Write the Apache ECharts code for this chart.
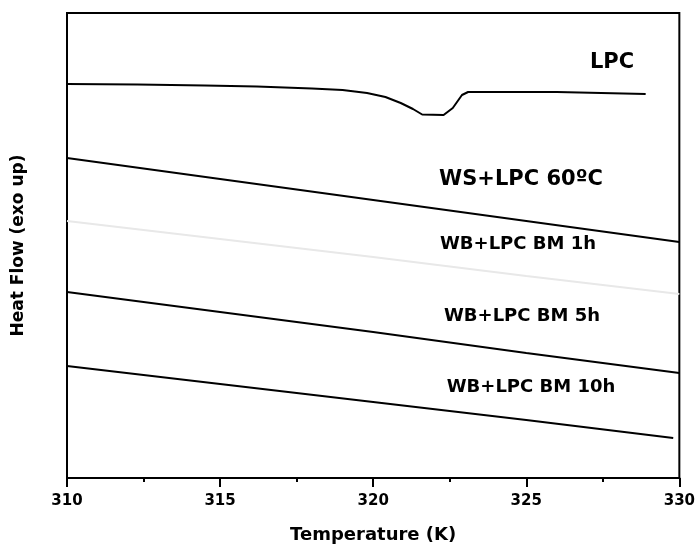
<!DOCTYPE html>
<html>
<head>
<meta charset="utf-8">
<script src="https://cdn.jsdelivr.net/npm/echarts@6/dist/echarts.min.js"></script>
<style>
  html, body { margin: 0; padding: 0; background: #fff; }
  #chart { width: 698px; height: 549px; }
</style>
</head>
<body>
<div id="chart"></div>
<script>
// temperatures (K) and heat flow (a.u.)
const lpcT = [310.0, 312.3, 314.5, 316.2, 318.0, 319.0, 319.8, 320.4, 320.9, 321.3, 321.6, 322.3, 322.6, 322.9, 323.1, 326.0, 328.9];
const lpcH = [394, 393.5, 392.5, 391.5, 389.5, 388, 385, 381, 375, 369, 363.5, 363, 370, 383, 386, 386, 384];

const ws60T = [310, 315, 320, 325, 330];
const ws60H = [320, 299, 278, 257, 236];

const bm1T = [310, 315, 320, 325, 330];
const bm1H = [257, 239, 221, 202, 184];

const bm5T = [310, 315, 320, 325, 330];
const bm5H = [186, 166, 146, 125, 105];

const bm10T = [310, 315, 320, 325, 329.8];
const bm10H = [112, 94, 76, 58, 40];

const seriesNames = ["LPC", "WS+LPC 60ºC", "WB+LPC BM 1h", "WB+LPC BM 5h", "WB+LPC BM 10h"];
const xTicks = [310, 315, 320, 325, 330];

const zip = (xs, ys) => xs.map((x, i) => [x, ys[i]]);

const chart = echarts.init(document.getElementById("chart"));

const font = "DejaVu Sans";
const lineSeries = (name, data, color) => ({
  type: "line",
  name: name,
  data: data,
  showSymbol: false,
  symbol: "none",
  animation: false,
  lineStyle: { color: color, width: 2 },
});

// label boxes placed next to each curve
const labelPos = [
  { x: 612, y: 63, size: 21 },
  { x: 521, y: 180, size: 21 },
  { x: 518, y: 244, size: 18 },
  { x: 522, y: 316, size: 18 },
  { x: 531, y: 387, size: 18 },
];

const option = {
  backgroundColor: "#fff",
  animation: false,
  grid: {
    left: 67, right: 14, top: 13, bottom: 71,
    show: true, borderColor: "#000", borderWidth: 2,
  },
  xAxis: {
    type: "value",
    min: xTicks[0],
    max: xTicks[xTicks.length - 1],
    interval: 5,
    name: "Temperature (K)",
    nameLocation: "middle",
    nameGap: 48,
    nameTextStyle: { fontFamily: font, fontWeight: "bold", fontSize: 18, color: "#000" },
    axisLine: { lineStyle: { color: "#000", width: 2 } },
    axisTick: { inside: false, length: 9, lineStyle: { color: "#000", width: 2 } },
    minorTick: { show: true, splitNumber: 2, length: 4, lineStyle: { color: "#000", width: 2 } },
    splitLine: { show: false },
    axisLabel: { margin: 16, fontFamily: font, fontWeight: "bold", fontSize: 15, color: "#000" },
  },
  yAxis: {
    type: "value",
    min: 0,
    max: 465,
    name: "Heat Flow (exo up)",
    nameLocation: "middle",
    nameRotate: 90,
    nameGap: 40,
    nameTextStyle: { fontFamily: font, fontWeight: "bold", fontSize: 17, color: "#000" },
    axisLine: { show: true, lineStyle: { color: "#000", width: 2 } },
    axisTick: { show: false },
    axisLabel: { show: false },
    splitLine: { show: false },
  },
  series: [
    lineSeries(seriesNames[0], zip(lpcT, lpcH), "#000"),
    lineSeries(seriesNames[1], zip(ws60T, ws60H), "#000"),
    lineSeries(seriesNames[2], zip(bm1T, bm1H), "#e8e8e8"),
    lineSeries(seriesNames[3], zip(bm5T, bm5H), "#000"),
    lineSeries(seriesNames[4], zip(bm10T, bm10H), "#000"),
  ],
  graphic: seriesNames.map((name, i) => ({
    type: "text",
    x: labelPos[i].x,
    y: labelPos[i].y,
    style: {
      text: name,
      fontFamily: font,
      fontWeight: "bold",
      fontSize: labelPos[i].size,
      fill: "#000",
      textAlign: "center",
      textVerticalAlign: "middle",
    },
  })),
};

chart.setOption(option);
</script>
</body>
</html>
